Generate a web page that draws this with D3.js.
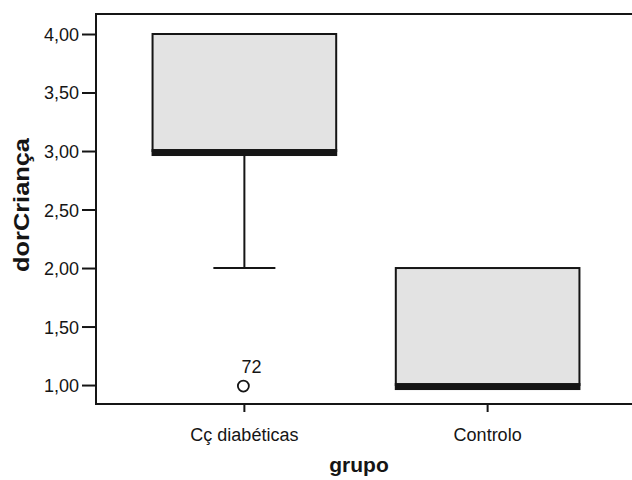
<!DOCTYPE html>
<html><head><meta charset="utf-8">
<script src="https://cdn.jsdelivr.net/npm/d3@7"></script>
<style>body{margin:0;background:#fff}svg{display:block}</style>
</head><body>
<svg id="c" width="632" height="480"></svg>
<script>
const categories = ["Cç diabéticas", "Controlo"];
const q1 = [3.0, 1.0];
const median = [3.0, 1.0];
const q3 = [4.0, 2.0];
const whiskerLow = [2.0, 1.0];
const whiskerHigh = [4.0, 2.0];
const outliers = [{cat: "Cç diabéticas", value: 1.0, label: "72"}];
const yTicks = [1.0, 1.5, 2.0, 2.5, 3.0, 3.5, 4.0];

const FONT = "Liberation Sans, Arial, sans-serif";
const INK = "#151515";
const svg = d3.select("#c");
const L = 96, R = 636, T = 14, B = 404;
const y = d3.scaleLinear().domain([0.838, 4.171]).range([B, T]);
const x = d3.scaleBand().domain(categories).range([L, R]).paddingInner(0.0).paddingOuter(0.11);
const step = x.step();
const cx = c => x(c) + x.bandwidth() / 2;
const fmt = v => d3.format(".2f")(v).replace(".", ",");

// frame top
svg.append("line").attr("x1", L).attr("x2", 632).attr("y1", T).attr("y2", T).attr("stroke", INK).attr("stroke-width", 2);

// y axis
const ya = svg.append("g").attr("transform", `translate(${L},0)`)
  .call(d3.axisLeft(y).tickValues(yTicks).tickFormat(fmt).tickSize(14).tickSizeOuter(0));
ya.select(".domain").remove();
ya.selectAll(".tick line").attr("stroke", INK).attr("stroke-width", 2);
ya.selectAll(".tick text").attr("font-family", FONT).attr("font-size", 18).attr("fill", INK)
  .attr("x", -17).attr("dy", "0.36em");
svg.append("line").attr("x1", L).attr("x2", L).attr("y1", T - 1).attr("y2", B + 1).attr("stroke", INK).attr("stroke-width", 2);

// x axis
const xa = svg.append("g").attr("transform", `translate(0,${B})`)
  .call(d3.axisBottom(x).tickSize(8).tickSizeOuter(0));
xa.select(".domain").remove();
xa.selectAll(".tick line").attr("stroke", INK).attr("stroke-width", 2);
xa.selectAll(".tick text").attr("font-family", FONT).attr("font-size", 18).attr("fill", INK)
  .attr("y", 37).attr("dy", 0);
svg.append("line").attr("x1", L - 1).attr("x2", 632).attr("y1", B).attr("y2", B).attr("stroke", INK).attr("stroke-width", 2);

// boxes
const boxW = step * 0.755, capW = step * 0.255;
categories.forEach((c, i) => {
  const g = svg.append("g");
  const xc = cx(c);
  if (whiskerLow[i] < q1[i]) {
    g.append("line").attr("x1", xc).attr("x2", xc).attr("y1", y(q1[i])).attr("y2", y(whiskerLow[i])).attr("stroke", INK).attr("stroke-width", 2);
    g.append("line").attr("x1", xc - capW / 2).attr("x2", xc + capW / 2).attr("y1", y(whiskerLow[i])).attr("y2", y(whiskerLow[i])).attr("stroke", INK).attr("stroke-width", 2);
  }
  if (whiskerHigh[i] > q3[i]) {
    g.append("line").attr("x1", xc).attr("x2", xc).attr("y1", y(q3[i])).attr("y2", y(whiskerHigh[i])).attr("stroke", INK).attr("stroke-width", 2);
    g.append("line").attr("x1", xc - capW / 2).attr("x2", xc + capW / 2).attr("y1", y(whiskerHigh[i])).attr("y2", y(whiskerHigh[i])).attr("stroke", INK).attr("stroke-width", 2);
  }
  g.append("rect").attr("x", xc - boxW / 2).attr("width", boxW)
    .attr("y", y(q3[i])).attr("height", y(q1[i]) - y(q3[i]))
    .attr("fill", "#e3e3e3").attr("stroke", INK).attr("stroke-width", 2);
  g.append("rect").attr("x", xc - boxW / 2 - 1).attr("width", boxW + 2)
    .attr("y", y(median[i]) - 2).attr("height", 7)
    .attr("fill", INK);
});

// outliers
outliers.forEach(o => {
  svg.append("circle").attr("cx", cx(o.cat) - 1).attr("cy", y(o.value) + 1).attr("r", 5.5)
    .attr("fill", "none").attr("stroke", INK).attr("stroke-width", 1.8);
  svg.append("text").attr("x", cx(o.cat) - 3).attr("y", y(o.value) - 12)
    .attr("font-family", FONT).attr("font-size", 18).attr("fill", INK).text(o.label);
});

// titles
svg.append("text").attr("transform", `translate(29,${205}) rotate(-90)`).attr("text-anchor", "middle")
  .attr("font-family", FONT).attr("font-weight", "bold").attr("font-size", 22).attr("fill", INK)
  .attr("textLength", 134).attr("lengthAdjust", "spacingAndGlyphs").text("dorCriança");
svg.append("text").attr("x", 359).attr("y", 472).attr("text-anchor", "middle")
  .attr("font-family", FONT).attr("font-weight", "bold").attr("font-size", 21).attr("fill", INK).text("grupo");
</script>
</body></html>
